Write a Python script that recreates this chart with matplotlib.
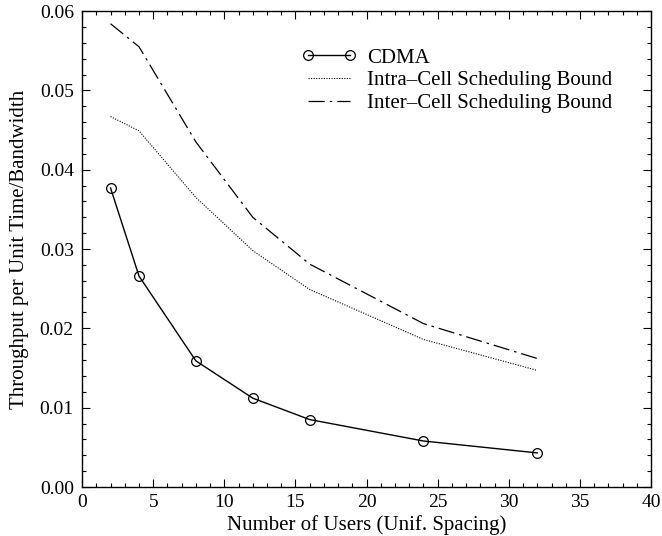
import numpy as np
import matplotlib
matplotlib.use("Agg")
import matplotlib.pyplot as plt
from matplotlib.ticker import MultipleLocator

users = [2, 4, 8, 12, 16, 24, 32]
cdma = [0.0377, 0.0266, 0.0159, 0.0112, 0.0085, 0.0058, 0.0043]
intra_bound = [0.0467, 0.0449, 0.0365, 0.0298, 0.0249, 0.0186, 0.0147]
inter_bound = [0.0584, 0.0555, 0.0435, 0.0340, 0.0281, 0.0206, 0.0162]

plt.rcParams['font.family'] = ['Liberation Serif', 'DejaVu Serif']

fig = plt.figure(figsize=(6.62, 5.36), dpi=100)
ax = fig.add_axes([0.124, 0.0914, 0.8595, 0.888])

ax.plot(users, cdma, color='black', lw=1.0, marker='o', markersize=7,
        markerfacecolor='none', markeredgewidth=0.9, label='CDMA')
ax.plot(users, intra_bound, color='black', lw=0.8, dashes=(1, 1.3),
        label='Intra\u2013Cell Scheduling Bound')
ax.plot(users, inter_bound, color='black', lw=0.9, dashes=(13, 4, 2, 4),
        label='Inter\u2013Cell Scheduling Bound')

ax.set_xlim(0, 40)
ax.set_ylim(0, 0.06)
ax.xaxis.set_major_locator(MultipleLocator(5))
ax.xaxis.set_minor_locator(MultipleLocator(1))
ax.yaxis.set_major_locator(MultipleLocator(0.01))
ax.yaxis.set_minor_locator(MultipleLocator(0.002))
ax.yaxis.set_major_formatter(plt.FormatStrFormatter('%.2f'))
ax.tick_params(which='both', direction='in', top=True, right=True, labelsize=14)
ax.tick_params(which='major', length=6, width=0.8)
ax.tick_params(which='minor', length=3, width=0.8)
ax.tick_params(axis='x', pad=5)
ax.tick_params(axis='y', pad=6)
for s in ax.spines.values():
    s.set_linewidth(1.0)

ax.set_xlabel('Number of Users (Unif. Spacing)', fontsize=15, labelpad=3)
ax.set_ylabel('Throughput per Unit Time/Bandwidth', fontsize=15, labelpad=8)

ax.legend(loc='upper left', bbox_to_anchor=(0.372, 0.94), frameon=False,
          fontsize=15, numpoints=2, handlelength=2.6, handletextpad=0.5,
          labelspacing=0.15, borderaxespad=0)

fig.savefig('out.png', dpi=100)
